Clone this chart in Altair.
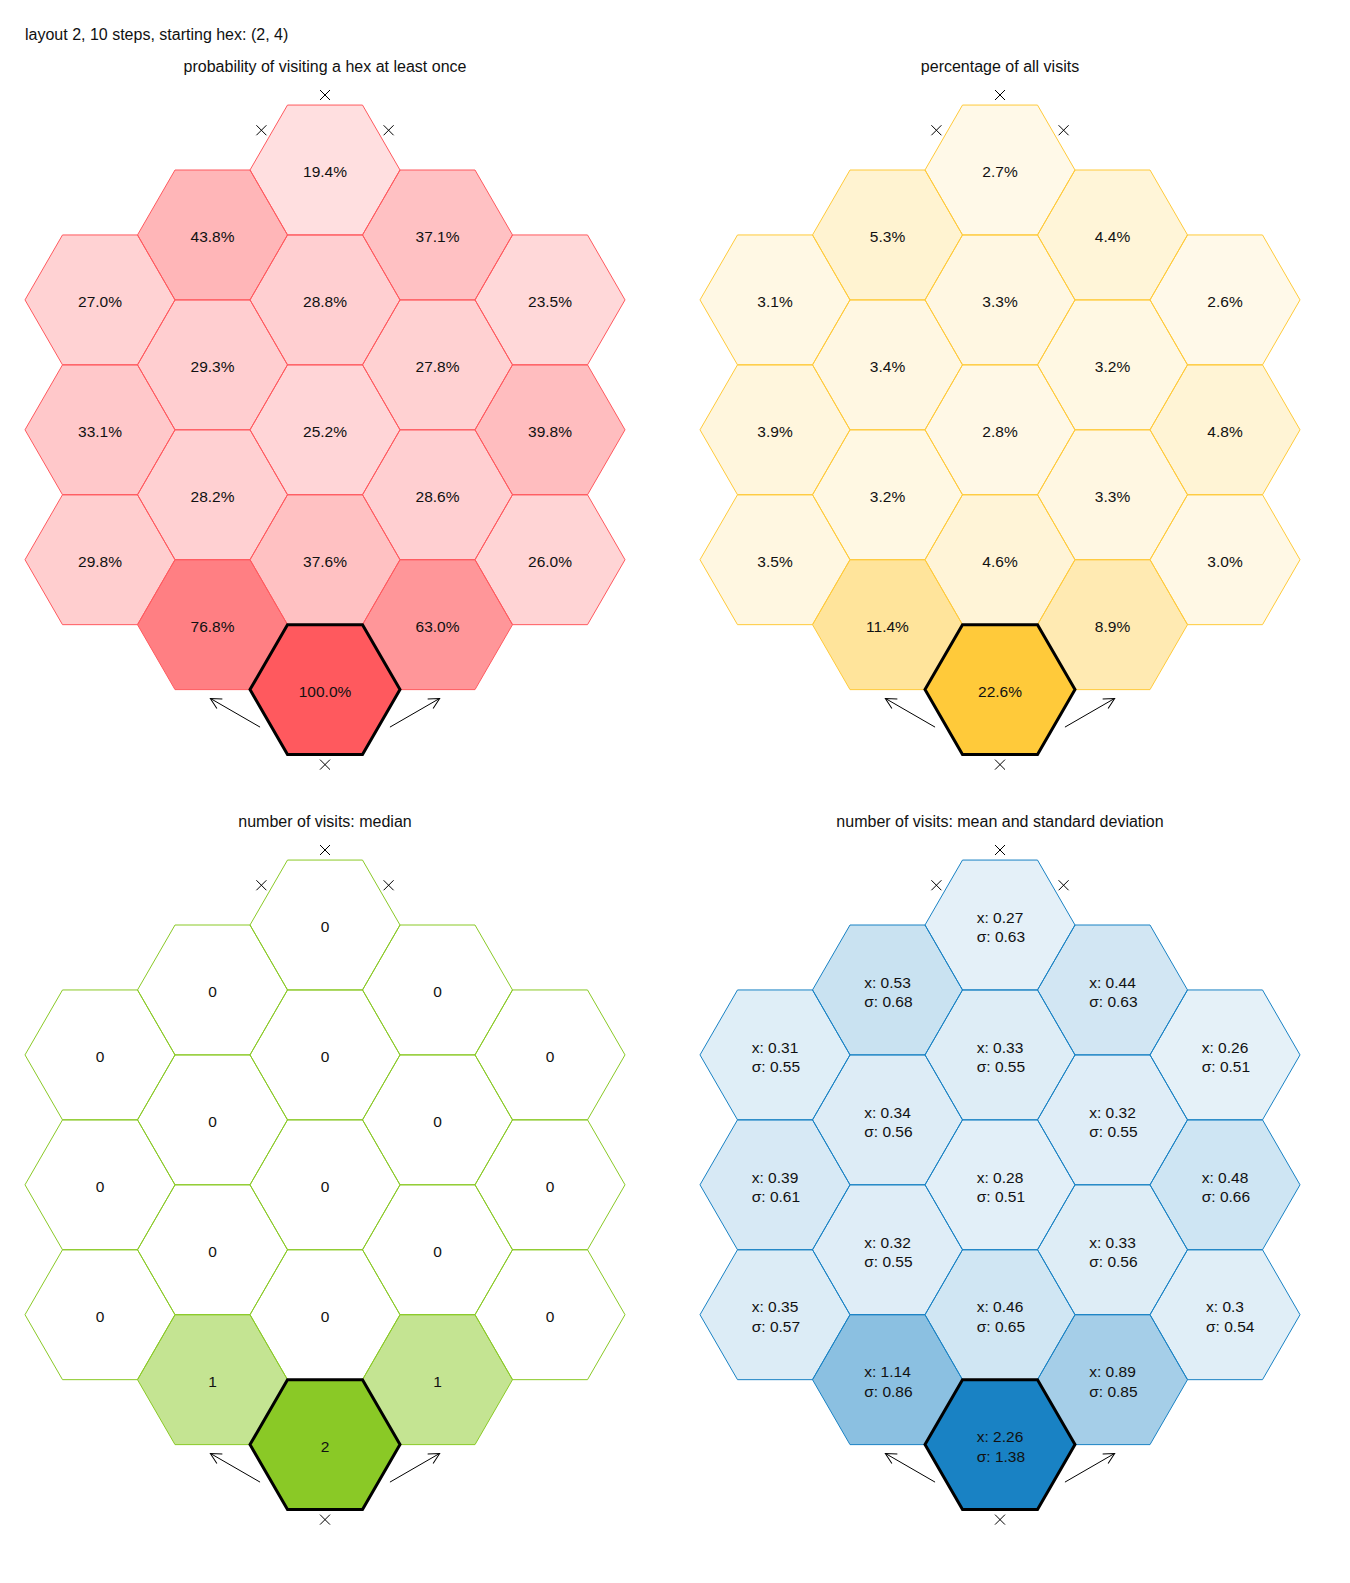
import math
import altair as alt
import pandas as pd

# ---------------- data ----------------
hex_col = [0, 0, 0, 1, 1, 1, 1, 2, 2, 2, 2, 2, 3, 3, 3, 3, 4, 4, 4]
hex_row = [0, 1, 2, 0, 1, 2, 3, 0, 1, 2, 3, 4, 0, 1, 2, 3, 0, 1, 2]

prob_at_least_once = [27.0, 33.1, 29.8, 43.8, 29.3, 28.2, 76.8, 19.4, 28.8, 25.2,
                      37.6, 100.0, 37.1, 27.8, 28.6, 63.0, 23.5, 39.8, 26.0]
pct_of_visits = [3.1, 3.9, 3.5, 5.3, 3.4, 3.2, 11.4, 2.7, 3.3, 2.8,
                 4.6, 22.6, 4.4, 3.2, 3.3, 8.9, 2.6, 4.8, 3.0]
median_visits = [0, 0, 0, 0, 0, 0, 1, 0, 0, 0, 0, 2, 0, 0, 0, 1, 0, 0, 0]
mean_visits = [0.31, 0.39, 0.35, 0.53, 0.34, 0.32, 1.14, 0.27, 0.33, 0.28,
               0.46, 2.26, 0.44, 0.32, 0.33, 0.89, 0.26, 0.48, 0.3]
sd_visits = [0.55, 0.61, 0.57, 0.68, 0.56, 0.55, 0.86, 0.63, 0.55, 0.51,
             0.65, 1.38, 0.63, 0.55, 0.56, 0.85, 0.51, 0.66, 0.54]

start_hex = (2, 4)
# blocked exits: (col, row, edge direction in degrees)
blocked_exits = [(2, 0, 90), (2, 0, 148), (2, 0, 32), (2, 4, 270)]
# wrapping exits: (col, row, edge direction, arrow heading)
wrap_exits = [(2, 4, 210, 150), (2, 4, 330, 30)]

main_title = "layout 2, 10 steps, starting hex: (2, 4)"
panel_titles = ["probability of visiting a hex at least once",
                "percentage of all visits",
                "number of visits: median",
                "number of visits: mean and standard deviation"]
panel_colors = ["#FF595E", "#FFCA3A", "#8AC926", "#1982C4"]

# ---------------- geometry / style ----------------
SQ3 = math.sqrt(3)
PX = 75.0            # pixels per hex radius
W, H = 650, 740      # panel plot size
Y0 = -170.0 / PX     # top of panel in hex units
FONT = "Liberation Sans"
TXT = "#111111"
LH = 19.5

HEX_PATH = "M1,0L0.5,0.866L-0.5,0.866L-1,0L-0.5,-0.866L0.5,-0.866Z"
CROSS_PATH = "M-1,-1L1,1M-1,1L1,-1"
HEAD_PATH = "M-0.454,0.891L0,0L0.454,0.891"

CW = {"x": 0.5, ":": 0.278, " ": 0.278, ".": 0.278}


def text_w(s, fs):
    return sum(CW.get(c, 0.556) for c in s) * fs


def center(c, r):
    return 1.5 * (c - 2), SQ3 * (r + abs(c - 2) / 2)


XS = alt.Scale(domain=[-W / (2 * PX), W / (2 * PX)], nice=False, zero=False)
YS = alt.Scale(domain=[Y0, Y0 + H / PX], nice=False, zero=False, reverse=True)


def X(f):
    return alt.X(f"{f}:Q", scale=XS, axis=None)


def Y(f):
    return alt.Y(f"{f}:Q", scale=YS, axis=None)


def panel(values, labels, vmax, color, title, multiline=False, with_main=False):
    rows = []
    for c, r, v, lab in zip(hex_col, hex_row, values, labels):
        x, y = center(c, r)
        xt = x
        if multiline:
            xt = x - text_w(lab.split("\n")[0], 15.5) / 2 / PX
        rows.append(dict(x=x, y=y, v=v, label=lab, xt=xt,
                         start=(c, r) == start_hex))
    df = pd.DataFrame(rows)
    df_other = df[~df.start]
    df_start = df[df.start]

    fo = alt.FillOpacity("v:Q", scale=alt.Scale(domain=[0, vmax], range=[0, 1]),
                         legend=None)
    hexes = alt.Chart(df_other).mark_point(
        shape=HEX_PATH, size=(2 * PX) ** 2, filled=True, fill=color,
        stroke=color, strokeWidth=1, strokeOpacity=1, opacity=1
    ).encode(x=X("x"), y=Y("y"), fillOpacity=fo)
    start = alt.Chart(df_start).mark_point(
        shape=HEX_PATH, size=(2 * PX) ** 2, filled=True, fill=color,
        stroke="black", strokeWidth=3, strokeOpacity=1, opacity=1
    ).encode(x=X("x"), y=Y("y"), fillOpacity=fo)

    if multiline:
        labels_l = alt.Chart(df).mark_text(
            font=FONT, fontSize=15.5, color=TXT, align="left", baseline="middle",
            lineBreak="\n", lineHeight=LH, dy=2.5 - LH / 2
        ).encode(x=X("xt"), y=Y("y"), text="label:N")
    else:
        labels_l = alt.Chart(df).mark_text(
            font=FONT, fontSize=15.5, color=TXT, align="center", baseline="middle", dy=2
        ).encode(x=X("x"), y=Y("y"), text="label:N")

    crosses = []
    for c, r, a in blocked_exits:
        x, y = center(c, r)
        crosses.append(dict(x=x + math.cos(math.radians(a)),
                            y=y - math.sin(math.radians(a))))
    cross_l = alt.Chart(pd.DataFrame(crosses)).mark_point(
        shape=CROSS_PATH, size=100, filled=False, stroke="black",
        strokeWidth=1, opacity=1
    ).encode(x=X("x"), y=Y("y"))

    arrows = []
    for c, r, a, h in wrap_exits:
        x, y = center(c, r)
        tx = x + math.cos(math.radians(a))
        ty = y - math.sin(math.radians(a))
        hx = tx + 0.765 * math.cos(math.radians(h))
        hy = ty - 0.765 * math.sin(math.radians(h))
        arrows.append(dict(x=tx, y=ty, x2=hx, y2=hy, ang=(90 - h) % 360))
    adf = pd.DataFrame(arrows)
    shafts = alt.Chart(adf).mark_rule(color="black", strokeWidth=1).encode(
        x=X("x"), y=Y("y"), x2="x2:Q", y2="y2:Q")
    heads = alt.Chart(adf).mark_point(
        shape=HEAD_PATH, size=24 ** 2, filled=False, stroke="black",
        strokeWidth=1, opacity=1
    ).encode(x=X("x2"), y=Y("y2"), angle=alt.Angle("ang:Q", scale=None))

    tdf = pd.DataFrame([dict(x=0.0, y=-1.387, t=title)])
    title_l = alt.Chart(tdf).mark_text(
        font=FONT, fontSize=16, color=TXT, align="center", baseline="middle", dy=1
    ).encode(x=X("x"), y=Y("y"), text="t:N")

    layers = [hexes, start, labels_l, cross_l, shafts, heads, title_l]
    if with_main:
        mdf = pd.DataFrame([dict(x=-4.0, y=-1.807, t=main_title)])
        layers.append(alt.Chart(mdf).mark_text(
            font=FONT, fontSize=16, color=TXT, align="left", baseline="middle", dy=1
        ).encode(x=X("x"), y=Y("y"), text="t:N"))
    return alt.layer(*layers).properties(width=W, height=H)


p1 = panel(prob_at_least_once, [f"{v:.1f}%" for v in prob_at_least_once],
           max(prob_at_least_once), panel_colors[0], panel_titles[0], with_main=True)
p2 = panel(pct_of_visits, [f"{v:.1f}%" for v in pct_of_visits],
           max(pct_of_visits), panel_colors[1], panel_titles[1])
p3 = panel(median_visits, [str(v) for v in median_visits],
           max(median_visits), panel_colors[2], panel_titles[2])
p4 = panel(mean_visits, [f"x: {m}\nσ: {s}" for m, s in zip(mean_visits, sd_visits)],
           max(mean_visits), panel_colors[3], panel_titles[3], multiline=True)

chart = alt.concat(
    p1, p2, p3, p4, columns=2, bounds="flush",
    spacing={"row": 15, "column": 25}
).resolve_scale(
    fillOpacity="independent", x="independent", y="independent"
).properties(padding=0).configure_view(stroke=None)

chart.save("out.html", embed_options={"renderer": "svg", "actions": False})
